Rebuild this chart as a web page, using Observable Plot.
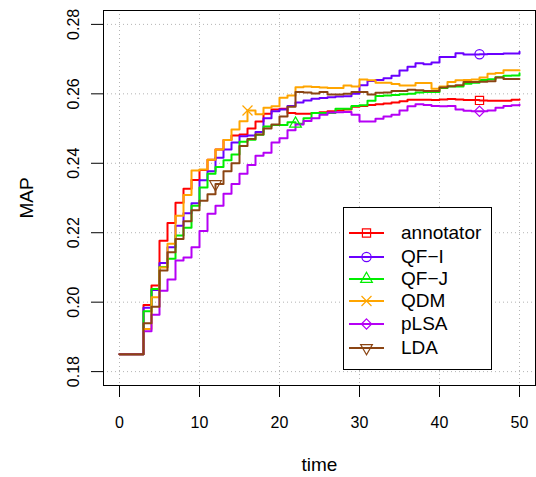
<!DOCTYPE html>
<html><head><meta charset="utf-8">
<script src="https://cdn.jsdelivr.net/npm/d3@7"></script>
<script src="https://cdn.jsdelivr.net/npm/@observablehq/plot@0.6"></script>
<style>
body{margin:0;background:#fff;}
#wrap{position:relative;width:536px;height:477px;font-family:"Liberation Sans",Arial,Helvetica,sans-serif;}
#legend{position:absolute;left:343px;top:207px;width:149px;height:163px;border:1px solid #000;box-sizing:border-box;background:#fff;}
.row{position:absolute;left:0;height:22px;display:flex;align-items:center;font-size:19px;color:#000;}
.row svg{display:block;}
.row span{margin-left:15px;}
</style></head><body><div id="wrap"></div>
<script>
const time = [0,1,2,3,4,5,6,7,8,9,10,11,12,13,14,15,16,17,18,19,20,21,22,23,24,25,26,27,28,29,30,31,32,33,34,35,36,37,38,39,40,41,42,43,44,45,46,47,48,49,50];
const seriesNames = ["annotator","QF\u2212I","QF\u2212J","QDM","pLSA","LDA"];
const seriesColors = ["#FF0000","#6A00FF","#00EE00","#FFA500","#B500F5","#8B4513"];
const annotator = [0.185,0.185,0.185,0.1992,0.2048,0.2177,0.2228,0.2286,0.2327,0.2352,0.2381,0.2410,0.2440,0.2467,0.2480,0.2483,0.2500,0.2520,0.2543,0.2555,0.2557,0.2545,0.2543,0.2543,0.2545,0.2547,0.2550,0.2552,0.2555,0.2563,0.2565,0.2568,0.2570,0.2572,0.2575,0.2579,0.2583,0.2583,0.2583,0.2582,0.2584,0.2585,0.2584,0.2582,0.2582,0.2581,0.2580,0.2580,0.2580,0.2583,0.2584];
const qfI = [0.185,0.185,0.185,0.1984,0.2035,0.2113,0.2158,0.2220,0.2256,0.2285,0.2351,0.2377,0.2416,0.2440,0.2460,0.2478,0.2480,0.2490,0.2530,0.2550,0.2555,0.2565,0.2575,0.2581,0.2586,0.2588,0.2590,0.2592,0.2593,0.2600,0.2625,0.2637,0.2640,0.2645,0.2652,0.2667,0.2678,0.2688,0.2685,0.2690,0.2706,0.2706,0.2717,0.2713,0.2713,0.2714,0.2715,0.2715,0.2716,0.2716,0.2721];
const qfJ = [0.185,0.185,0.185,0.1974,0.2038,0.2101,0.2125,0.2192,0.2214,0.2278,0.2330,0.2370,0.2389,0.2409,0.2425,0.2462,0.2468,0.2482,0.2506,0.2510,0.2510,0.2518,0.2514,0.2530,0.2545,0.2545,0.2545,0.2557,0.2557,0.2565,0.2567,0.2580,0.2594,0.2595,0.2597,0.2599,0.2600,0.2604,0.2605,0.2605,0.2617,0.2621,0.2621,0.2629,0.2632,0.2640,0.2642,0.2648,0.2652,0.2653,0.2659];
const qdm = [0.185,0.185,0.185,0.1923,0.2014,0.2100,0.2168,0.2249,0.2309,0.2379,0.2382,0.2410,0.2440,0.2467,0.2497,0.2521,0.2552,0.2541,0.2560,0.2564,0.2589,0.2595,0.2619,0.2621,0.2620,0.2618,0.2617,0.2617,0.2624,0.2621,0.2641,0.2639,0.2632,0.2632,0.2628,0.2624,0.2624,0.2631,0.2631,0.2615,0.2621,0.2634,0.2639,0.2640,0.2641,0.2647,0.2658,0.2660,0.2668,0.2668,0.2667];
const plsa = [0.185,0.185,0.185,0.1916,0.1964,0.2033,0.2065,0.2120,0.2129,0.2158,0.2205,0.2255,0.2278,0.2312,0.2340,0.2370,0.2395,0.2422,0.2430,0.2460,0.2472,0.2495,0.2512,0.2522,0.2530,0.2540,0.2546,0.2547,0.2548,0.2540,0.2520,0.2520,0.2528,0.2535,0.2540,0.2552,0.2564,0.2570,0.2568,0.2565,0.2564,0.2565,0.2555,0.2551,0.2550,0.2550,0.2552,0.2560,0.2565,0.2567,0.2569];
const lda = [0.185,0.185,0.185,0.1939,0.1987,0.2091,0.2144,0.2182,0.2233,0.2265,0.2292,0.2311,0.2340,0.2377,0.2400,0.2450,0.2470,0.2483,0.2500,0.2512,0.2535,0.2563,0.2605,0.2604,0.2601,0.2605,0.2598,0.2598,0.2600,0.2605,0.2605,0.2598,0.2603,0.2604,0.2608,0.2608,0.2612,0.2610,0.2608,0.2608,0.2618,0.2622,0.2625,0.2634,0.2634,0.2635,0.2636,0.2647,0.2643,0.2643,0.2643];
const markerTimes = [45,45,22,16,45,12];
const seriesSymbols = ["square","circle","triangle2","times","diamond2","triangle2"];
const seriesRotate = [0,0,0,0,0,180];
const seriesSymbolR = [4.6,4.6,5.6,4.6,4.6,5.6];
const xTicks = [0,10,20,30,40,50];
const yTicks = [0.18,0.20,0.22,0.24,0.26,0.28];

const allValues = [annotator,qfI,qfJ,qdm,plsa,lda];
const rows = [];
allValues.forEach((vals,i)=>vals.forEach((v,j)=>rows.push({series:seriesNames[i],time:time[j],value:v})));
const markers = seriesNames.map((s,i)=>({series:s,time:markerTimes[i],value:allValues[i][time.indexOf(markerTimes[i])],rot:seriesRotate[i],r:seriesSymbolR[i]}));

const gridStyle = {stroke:"#b4b4b4",strokeOpacity:1,strokeDasharray:"1,3",strokeWidth:1};
const chart = Plot.plot({
  width:536,height:477,
  marginLeft:103,marginRight:1,marginTop:10,marginBottom:92,
  x:{domain:[-2,52]},
  y:{domain:[0.176,0.284]},
  r:{type:"identity"},
  color:{domain:seriesNames,range:seriesColors},
  symbol:{domain:seriesNames,range:seriesSymbols},
  style:{fontFamily:"'Liberation Sans',Arial,Helvetica,sans-serif",fontSize:"16px",color:"#000",background:"#fff"},
  marks:[
    Plot.gridX(xTicks,gridStyle),
    Plot.gridY(yTicks,gridStyle),
    Plot.line(rows,{x:"time",y:"value",z:"series",stroke:"series",curve:"step-after",strokeWidth:2}),
    Plot.dot(markers,{x:"time",y:"value",symbol:"series",stroke:"series",fill:"none",r:"r",strokeWidth:1.2,rotate:"rot"}),
    Plot.frame({stroke:"#000",strokeWidth:1}),
    Plot.axisX(xTicks,{tickSize:12,tickPadding:19,fontSize:16,label:null}),
    Plot.axisX({ticks:[],tickSize:0,label:"time",labelAnchor:"center",labelArrow:"none",labelOffset:85,fontSize:19}),
    Plot.axisY(yTicks,{tickSize:12,tickPadding:13,tickRotate:-90,tickFormat:d3.format(".2f"),fontSize:16,label:null}),
    Plot.axisY({ticks:[],tickSize:0,label:"MAP",labelAnchor:"center",labelArrow:"none",labelOffset:84,fontSize:19})
  ]
});
const wrap = document.getElementById("wrap");
wrap.appendChild(chart);

// legend
const legend = document.createElement("div");
legend.id = "legend";
wrap.appendChild(legend);
const rowTops = [14,38,60,82,105,129];
const symTypes = {square:d3.symbolSquare,circle:d3.symbolCircle,triangle2:d3.symbolTriangle2,times:d3.symbolTimes,diamond2:d3.symbolDiamond2};
seriesNames.forEach((s,i)=>{
  const row = document.createElement("div");
  row.className = "row";
  row.style.top = rowTops[i]+"px";
  const svg = d3.create("svg").attr("width",42).attr("height",22);
  svg.append("line").attr("x1",5).attr("x2",40).attr("y1",11).attr("y2",11).attr("stroke",seriesColors[i]).attr("stroke-width",2);
  svg.append("path").attr("d",d3.symbol(symTypes[seriesSymbols[i]], Math.PI*seriesSymbolR[i]*seriesSymbolR[i])()).attr("transform",`translate(22.5,11) rotate(${seriesRotate[i]})`)
     .attr("fill","none").attr("stroke",seriesColors[i]).attr("stroke-width",1.2);
  row.appendChild(svg.node());
  const sp = document.createElement("span");
  sp.textContent = s;
  row.appendChild(sp);
  legend.appendChild(row);
});
</script></body></html>
